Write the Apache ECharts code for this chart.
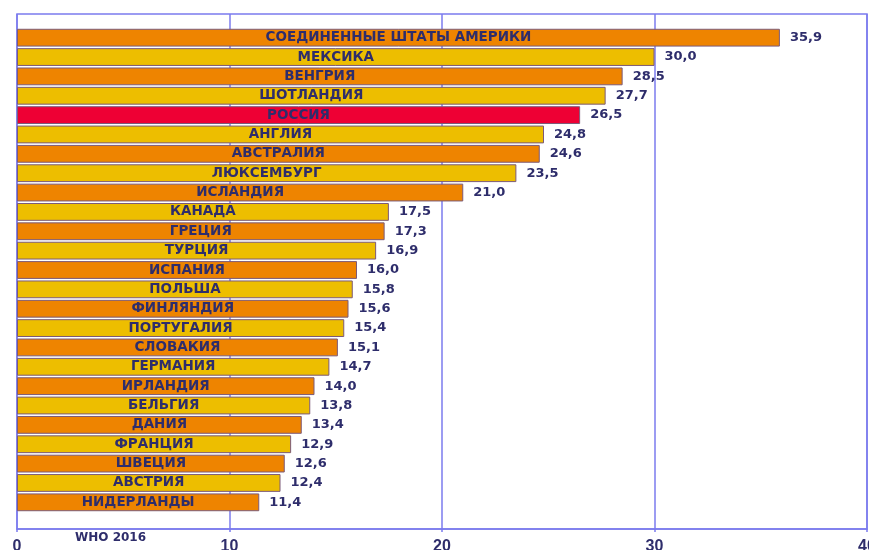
<!DOCTYPE html>
<html>
<head>
<meta charset="utf-8">
<script src="https://cdn.jsdelivr.net/npm/echarts@6/dist/echarts.min.js"></script>
<style>
    html, body { margin: 0; padding: 0; background: #fff; }
    #chart { width: 869px; height: 550px; }
</style>
</head>
<body>
<div id="chart"></div>
<script>
let countries = ['СОЕДИНЕННЫЕ ШТАТЫ АМЕРИКИ', 'МЕКСИКА', 'ВЕНГРИЯ', 'ШОТЛАНДИЯ', 'РОССИЯ', 'АНГЛИЯ',
    'АВСТРАЛИЯ', 'ЛЮКСЕМБУРГ', 'ИСЛАНДИЯ', 'КАНАДА', 'ГРЕЦИЯ', 'ТУРЦИЯ', 'ИСПАНИЯ', 'ПОЛЬША',
    'ФИНЛЯНДИЯ', 'ПОРТУГАЛИЯ', 'СЛОВАКИЯ', 'ГЕРМАНИЯ', 'ИРЛАНДИЯ', 'БЕЛЬГИЯ', 'ДАНИЯ',
    'ФРАНЦИЯ', 'ШВЕЦИЯ', 'АВСТРИЯ', 'НИДЕРЛАНДЫ'];
let values = [35.9, 30.0, 28.5, 27.7, 26.5, 24.8, 24.6, 23.5, 21.0, 17.5, 17.3, 16.9, 16.0, 15.8,
    15.6, 15.4, 15.1, 14.7, 14.0, 13.8, 13.4, 12.9, 12.6, 12.4, 11.4];
let highlight = 'РОССИЯ';
let axisTicks = [0, 10, 20, 30, 40];
let sourceNote = 'WHO 2016';

let navy = '#2e2d6b';
let gridBlue = '#7b7bee';
let boldFont = '"DejaVu Sans", sans-serif';

let myChart = echarts.init(document.getElementById('chart'));

let barData = values.map(function (v, i) {
    let color = i % 2 === 0 ? '#ee8400' : '#edbe00';
    if (countries[i] === highlight) color = '#ee0034';
    return { value: v, itemStyle: { color: color } };
});

let option = {
    animation: false,
    textStyle: { fontFamily: 'Liberation Sans, Arial, sans-serif' },
    grid: [
        // рамка и сетка
        { left: 17, right: 2, top: 14, bottom: 21, show: true, borderColor: gridBlue, borderWidth: 1.5,
          outerBoundsMode: 'none', containLabel: false },
        // столбцы
        { left: 17, right: 2, top: 28, bottom: 38, outerBoundsMode: 'none', containLabel: false }
    ],
    xAxis: [
        {
            gridIndex: 0, type: 'value', min: axisTicks[0], max: axisTicks[axisTicks.length - 1], interval: 10,
            axisLine: { show: true, lineStyle: { color: gridBlue, width: 1.5 } },
            axisTick: { show: true, length: 3, lineStyle: { color: gridBlue, width: 1.5 } },
            splitLine: { show: true, lineStyle: { color: gridBlue, width: 1.5 } },
            axisLabel: { color: navy, fontSize: 16, fontWeight: 'bold', margin: 10 }
        },
        { gridIndex: 1, type: 'value', min: 0, max: 40, show: false }
    ],
    yAxis: [
        { gridIndex: 0, type: 'value', show: false },
        { gridIndex: 1, type: 'category', data: countries, inverse: true, show: false }
    ],
    series: [
        {
            type: 'bar',
            xAxisIndex: 1,
            yAxisIndex: 1,
            z: 10,
            data: barData,
            barCategoryGap: '8%',
            itemStyle: { borderColor: '#7c5a78', borderWidth: 1 },
            label: {
                show: true,
                position: 'inside',
                formatter: function (p) { return p.name; },
                color: navy,
                fontFamily: boldFont,
                fontSize: 13.5,
                fontWeight: 'bold'
            }
        },
        {
            type: 'bar',
            xAxisIndex: 1,
            yAxisIndex: 1,
            z: 10,
            data: values,
            barGap: '-100%',
            barCategoryGap: '8%',
            itemStyle: { color: 'transparent' },
            silent: true,
            label: {
                show: true,
                position: 'right',
                distance: 10,
                formatter: function (p) { return p.value.toFixed(1).replace('.', ','); },
                color: navy,
                fontFamily: boldFont,
                fontSize: 13,
                fontWeight: 'bold'
            }
        }
    ],
    graphic: [{
        type: 'text',
        left: 75,
        top: 532,
        style: { text: sourceNote, fill: navy, font: 'bold 12px "DejaVu Sans", sans-serif' }
    }]
};

myChart.setOption(option);
</script>
</body>
</html>
